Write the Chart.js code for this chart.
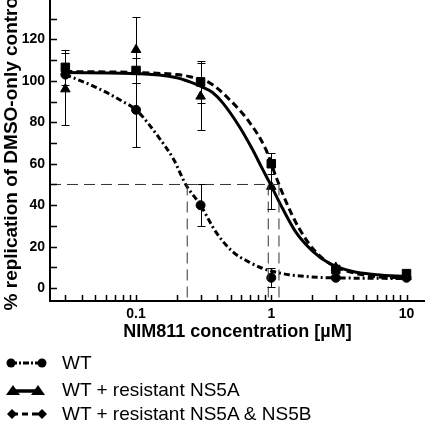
<!DOCTYPE html>
<html><head><meta charset="utf-8">
<script src="https://cdn.jsdelivr.net/npm/chart.js@4/dist/chart.umd.min.js"></script>
<style>
html,body{margin:0;padding:0;background:#fff;}
#wrap{position:relative;width:425px;height:421px;overflow:hidden;}
#c{position:absolute;left:0;top:0;}
.leg{position:absolute;left:0;height:26px;width:425px;font:19px "Liberation Sans",Arial,sans-serif;color:#000;}
.leg svg{position:absolute;left:0;top:0;}
.leg span{position:absolute;left:62px;top:0;line-height:26px;white-space:nowrap;}
</style></head><body>
<div id="wrap">
<canvas id="c" width="425" height="421"></canvas>
<div id="legend"></div>
</div>
<script>
// ---- data ----
const concentrations = [0.03, 0.1, 0.3, 1, 3, 10];
const seriesNames = ['WT', 'WT + resistant NS5A', 'WT + resistant NS5A & NS5B'];
const wtMean = [103, 86, 40, 5, 5, 5];
const wtErr = [0, 18, 10, 4.5, 0, 0];
const ns5aMean = [96, 115, 92.5, 49, 10, 5.5];
const ns5aErr = [17.5, 16, 16, 11, 0, 0];
const ns5abMean = [106.5, 105, 99.5, 60, 9, 7];
const ns5abErr = [8.5, 6, 10, 5, 0, 0];

const wtCurveX = [0.03, 0.05, 0.08, 0.1, 0.15, 0.19, 0.233, 0.3, 0.39, 0.52, 0.68, 0.86, 1.03, 1.35, 2.7, 5, 10];
const wtCurveY = [103, 97, 90, 86, 72, 62, 50, 40, 27, 17.5, 12.7, 9.6, 8, 6.5, 5, 4.8, 4.6];
const ns5aCurveX = [0.03, 0.1, 0.2, 0.25, 0.31, 0.366, 0.436, 0.58, 0.725, 0.86, 0.97, 1.21, 1.52, 2.01, 2.68, 4, 6, 10];
const ns5aCurveY = [104, 103.5, 101.5, 99.5, 97, 94.5, 89.5, 78, 67, 57.5, 51, 38.5, 27, 18, 12, 8, 6.5, 5.5];
const ns5abCurveX = [0.03, 0.1, 0.2, 0.25, 0.35, 0.49, 0.69, 0.91, 1.08, 1.29, 1.6, 2.13, 2.85, 4, 6, 10];
const ns5abCurveY = [104.5, 104, 103, 102, 99, 91, 80, 67, 54, 41.5, 29, 17.5, 11, 7.5, 5.5, 5];

const ec50X = [0.239, 0.95, 1.14];
const halfLevel = 50;

const xTickLabels = [0.1, 1, 10];
const xMinorTicks = [0.03,0.04,0.05,0.06,0.07,0.08,0.09,0.2,0.3,0.4,0.5,0.6,0.7,0.8,0.9,2,3,4,5,6,7,8,9];
const yTickLabels = [0, 20, 40, 60, 80, 100, 120];
const yMinorTicks = [10, 30, 50, 70, 90, 110, 130];
const xRange = [0.0231, 13.7];
const yRange = [-6.2, 138.5];
const xTitle = 'NIM811 concentration [µM]';
const yTitle = '% replication of DMSO-only control';

// ---- build datasets ----
const pts = (xs, ys) => xs.map((x, i) => ({x, y: ys[i]}));
const FONT = '"Liberation Sans", Arial, sans-serif';

const curveDs = (label, xs, ys, dash) => ({
  label, data: pts(xs, ys), showLine: true, borderColor: '#000', borderWidth: 3,
  borderDash: dash, pointRadius: 0, pointHoverRadius: 0, cubicInterpolationMode: 'monotone', fill: false
});
const markDs = (label, ys, errs, style, r) => ({
  label, data: pts(concentrations, ys), errs, showLine: false, pointStyle: style,
  pointRadius: r, backgroundColor: '#000', borderColor: '#000', borderWidth: 1, clip: false
});
const refDs = (data) => ({
  label: 'ref', data, showLine: true, borderColor: '#333', borderWidth: 1,
  borderDash: [11, 6], pointRadius: 0, fill: false
});

const datasets = [
  refDs([{x: xRange[0], y: halfLevel}, {x: ec50X[2], y: halfLevel}]),
  ...ec50X.map(v => refDs([{x: v, y: halfLevel}, {x: v, y: yRange[0]}])),
  curveDs(seriesNames[0], wtCurveX, wtCurveY, [6, 3, 2, 3]),
  curveDs(seriesNames[1], ns5aCurveX, ns5aCurveY, []),
  curveDs(seriesNames[2], ns5abCurveX, ns5abCurveY, [7, 4]),
  markDs(seriesNames[0], wtMean, wtErr, 'circle', 4.5),
  markDs(seriesNames[1], ns5aMean, ns5aErr, 'triangle', 5.5),
  markDs(seriesNames[2], ns5abMean, ns5abErr, 'rect', 6)
];

const errorBars = {
  id: 'errorBars',
  afterDatasetsDraw(chart) {
    const {ctx, scales: {x, y}} = chart;
    ctx.save();
    ctx.strokeStyle = '#000'; ctx.lineWidth = 1;
    chart.data.datasets.forEach(ds => {
      if (!ds.errs) return;
      ds.data.forEach((p, i) => {
        const e = ds.errs[i];
        if (!e) return;
        const px = Math.round(x.getPixelForValue(p.x)) + 0.5;
        const top = Math.round(y.getPixelForValue(p.y + e)) + 0.5;
        const bot = Math.round(y.getPixelForValue(p.y - e)) + 0.5;
        ctx.beginPath();
        ctx.moveTo(px, top); ctx.lineTo(px, bot);
        ctx.moveTo(px - 4, top); ctx.lineTo(px + 4, top);
        ctx.moveTo(px - 4, bot); ctx.lineTo(px + 4, bot);
        ctx.stroke();
      });
    });
    ctx.restore();
  }
};

const innerTicks = {
  id: 'innerTicks',
  afterDraw(chart) {
    const {ctx, scales: {x, y}, chartArea: a} = chart;
    ctx.save();
    ctx.strokeStyle = '#000'; ctx.lineWidth = 1.5;
    xTickLabels.concat(xMinorTicks).forEach(v => {
      const px = Math.round(x.getPixelForValue(v)) + 0.5;
      ctx.beginPath(); ctx.moveTo(px, a.bottom); ctx.lineTo(px, a.bottom - 6); ctx.stroke();
    });
    yTickLabels.concat(yMinorTicks).forEach(v => {
      const py = Math.round(y.getPixelForValue(v)) + 0.5;
      ctx.beginPath(); ctx.moveTo(a.left, py); ctx.lineTo(a.left + 7, py); ctx.stroke();
    });
    ctx.restore();
  }
};

new Chart(document.getElementById('c'), {
  type: 'scatter',
  data: {datasets},
  options: {
    responsive: false, animation: false,
    layout: {autoPadding: false, padding: {top: 1, right: 0, bottom: 78, left: 0}},
    plugins: {legend: {display: false}, tooltip: {enabled: false}},
    scales: {
      x: {
        type: 'logarithmic', min: xRange[0], max: xRange[1],
        afterBuildTicks: s => { s.ticks = xTickLabels.map(v => ({value: v})); },
        afterFit: s => { s.height = 42; s.paddingLeft = 0; s.paddingRight = 0; },
        grid: {display: false, drawTicks: false},
        border: {display: true, color: '#000', width: 2},
        ticks: {autoSkip: false, maxRotation: 0, padding: 5, color: '#000',
          font: {family: FONT, size: 14, weight: 'bold'}, callback: v => String(v)},
        title: {display: true, text: xTitle, color: '#000', padding: {top: 0, bottom: 0},
          font: {family: FONT, size: 18, weight: 'bold'}}
      },
      y: {
        min: yRange[0], max: yRange[1],
        afterBuildTicks: s => { s.ticks = yTickLabels.map(v => ({value: v})); },
        afterFit: s => { s.width = 50; s.paddingTop = 0; s.paddingBottom = 0; },
        grid: {display: false, drawTicks: false},
        border: {display: true, color: '#000', width: 2},
        ticks: {padding: 5, color: '#000', font: {family: FONT, size: 14, weight: 'bold'}},
        title: {display: true, text: yTitle, color: '#000', padding: 0,
          font: {family: FONT, size: 19, weight: 'bold'}}
      }
    }
  },
  plugins: [errorBars, innerTicks]
});

// ---- HTML legend ----
const legendRows = [
  {top: 350, svg: '<line x1="11" y1="13" x2="42" y2="13" stroke="#000" stroke-width="3" stroke-dasharray="6,2,2,2"/><circle cx="11" cy="13" r="4.5"/><circle cx="42" cy="13" r="4.5"/>'},
  {top: 377, svg: '<line x1="13" y1="14" x2="38" y2="14" stroke="#000" stroke-width="3.5"/><polygon points="6,18 13,8 20,18"/><polygon points="31,18 38,8 45,18"/>'},
  {top: 401, svg: '<line x1="12" y1="13" x2="42" y2="13" stroke="#000" stroke-width="3" stroke-dasharray="6,4"/><polygon points="12,8 17,13 12,18 7,13"/><polygon points="42,8 47,13 42,18 37,13"/>'}
];
const leg = document.getElementById('legend');
legendRows.forEach((r, i) => {
  const d = document.createElement('div');
  d.className = 'leg'; d.style.top = r.top + 'px';
  d.innerHTML = '<svg width="55" height="26">' + r.svg + '</svg><span></span>';
  d.querySelector('span').textContent = seriesNames[i];
  leg.appendChild(d);
});
</script>
</body></html>
